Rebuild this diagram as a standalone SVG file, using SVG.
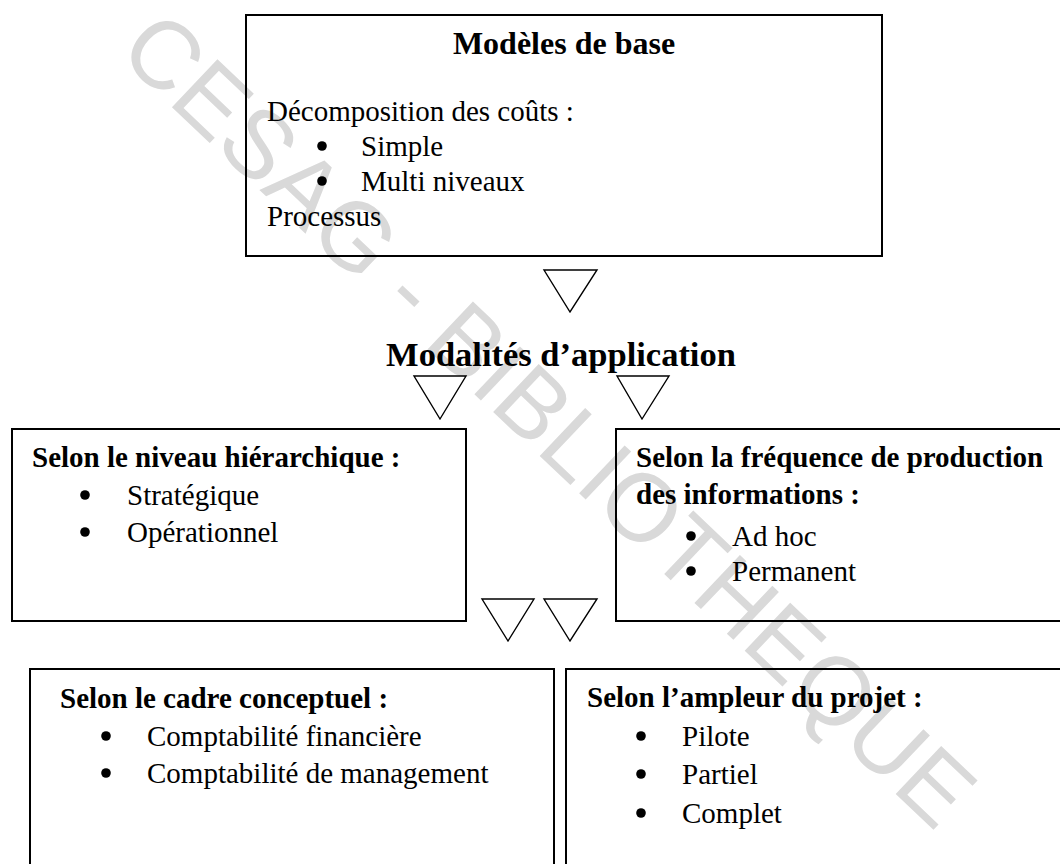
<svg xmlns="http://www.w3.org/2000/svg" width="1060" height="864" viewBox="0 0 1060 864">
<style>
.box{fill:none;stroke:#000;stroke-width:2}
.tri{fill:none;stroke:#000;stroke-width:1.4;stroke-linejoin:miter}
.dot{fill:#000}
text{font-family:"Liberation Serif","Times New Roman",serif;fill:#000}
.b{font-weight:bold;font-size:29px}
.r{font-size:29px}
.wm{font-family:"Liberation Sans",Arial,sans-serif;font-size:96px;fill:#d9d9d9}
</style>
<rect width="1060" height="864" fill="#fff"/>
<text class="wm" transform="translate(116,54) rotate(43.5)">CESAG - BIBLIOTHEQUE</text>
<g id="connectors">
<polygon class="tri" points="544,270 597,270 570,312"/>
<polygon class="tri" points="414,376 466,376 440,419"/>
<polygon class="tri" points="617,376 669,376 642,419"/>
<polygon class="tri" points="482,599 534,599 508,641"/>
<polygon class="tri" points="544,599 597,599 570,641"/>
</g>
<g id="modeles">
<rect class="box" x="246" y="15" width="636" height="241"/>
<text class="b" x="564" y="54" text-anchor="middle" style="font-size:32px">Modèles de base</text>
<text class="r" x="267" y="121">Décomposition des coûts :</text>
<circle class="dot" cx="322" cy="146" r="4.8"/><text class="r" x="361" y="156">Simple</text>
<circle class="dot" cx="322" cy="181" r="4.8"/><text class="r" x="361" y="191">Multi niveaux</text>
<text class="r" x="267" y="226">Processus</text>
</g>
<g id="modalites">
<text class="b" x="561" y="366" text-anchor="middle" style="font-size:34.5px">Modalités d’application</text>
</g>
<g id="hierarchique">
<rect class="box" x="12" y="429" width="454" height="192"/>
<text class="b" x="32" y="467">Selon le niveau hiérarchique :</text>
<circle class="dot" cx="85" cy="495" r="4.8"/><text class="r" x="127" y="505">Stratégique</text>
<circle class="dot" cx="85" cy="532" r="4.8"/><text class="r" x="127" y="542">Opérationnel</text>
</g>
<g id="frequence">
<rect class="box" x="616" y="429" width="460" height="192"/>
<text class="b" x="636" y="467">Selon la fréquence de production</text>
<text class="b" x="636" y="504">des informations :</text>
<circle class="dot" cx="691" cy="536" r="4.8"/><text class="r" x="732" y="546">Ad hoc</text>
<circle class="dot" cx="691" cy="571" r="4.8"/><text class="r" x="732" y="581">Permanent</text>
</g>
<g id="cadre">
<rect class="box" x="30" y="669" width="524" height="220"/>
<text class="b" x="60" y="708">Selon le cadre conceptuel :</text>
<circle class="dot" cx="106" cy="736" r="4.8"/><text class="r" x="147" y="746">Comptabilité financière</text>
<circle class="dot" cx="106" cy="773" r="4.8"/><text class="r" x="147" y="783">Comptabilité de management</text>
</g>
<g id="ampleur">
<rect class="box" x="566" y="669" width="520" height="220"/>
<text class="b" x="587" y="707">Selon l’ampleur du projet :</text>
<circle class="dot" cx="641" cy="736" r="4.8"/><text class="r" x="682" y="746">Pilote</text>
<circle class="dot" cx="641" cy="774" r="4.8"/><text class="r" x="682" y="784">Partiel</text>
<circle class="dot" cx="641" cy="813" r="4.8"/><text class="r" x="682" y="823">Complet</text>
</g>
</svg>
